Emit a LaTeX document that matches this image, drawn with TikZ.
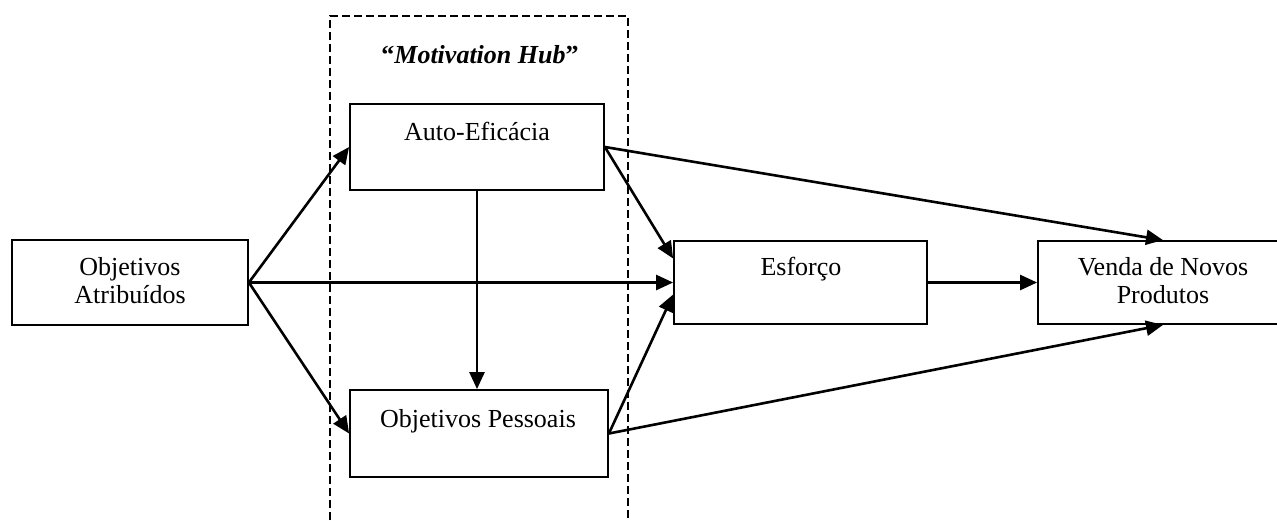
\documentclass[tikz,border=0pt]{standalone}
\usepackage{fontspec}
\setmainfont{Liberation Serif}
\usetikzlibrary{arrows.meta,calc}
\begin{document}
\begin{tikzpicture}[x=1pt,y=-1pt,
  box/.style={draw,line width=1.8pt,rectangle,inner sep=0pt,fill=white},
  txt/.style={font=\fontsize{26}{28}\selectfont,align=center,inner sep=0pt},
  conn/.style={line width=2.6pt,-{Triangle[length=17pt,width=15pt]}},
  hub/.style={line width=1.8pt,dash pattern=on 8pt off 4pt}]
\useasboundingbox (0,0) rectangle (1277,520);
\fill[white] (0,0) rectangle (1277,520);

% dashed frame of the motivation hub, open at the bottom
\coordinate (hbl) at (330,520);
\coordinate (htl) at (330,16);
\coordinate (htr) at (628,16);
\coordinate (hbr) at (628,520);
\draw[hub] (hbl) -- (htl) -- (htr) -- (hbr);
\node[txt,anchor=base] (hubt) at (480,63) {\textbf{“\textit{Motivation Hub}”}};

% boxes
\node[box,minimum width=236pt,minimum height=85pt] (oa) at (130,282.5) {};
\node[box,minimum width=254pt,minimum height=86pt] (ae) at (477,147) {};
\node[box,minimum width=258pt,minimum height=87pt] (op) at (479,433.5) {};
\node[box,minimum width=253pt,minimum height=83pt] (es) at (800.5,282.5) {};
\node[box,minimum width=250pt,minimum height=83pt] (vn) at (1163,282.5) {};

% box texts (base of a two-line text is its last line)
\node[txt,anchor=base] (oat) at (130,303) {Objetivos\\Atribuídos};
\node[txt,anchor=base] (aet) at (477,140) {Auto-Eficácia};
\node[txt,anchor=base] (opt) at (478,427) {Objetivos Pessoais};
\node[txt,anchor=base] (est) at (801,275) {Esforço};
\node[txt,anchor=base] (vnt) at (1163,303) {Venda de Novos\\Produtos};

% connectors
\draw[conn] (oa.east) -- (ae.west);
\draw[conn] (oa.east) -- (op.west);
\draw[conn] (oa.east) -- (es.west);
\draw[conn] (ae.south) -- (ae.south |- op.north);
\draw[conn] (ae.east) -- ($(es.west)+(0,-24)$);
\draw[conn] (op.east) -- ($(es.west)+(0,12)$);
\draw[conn] (ae.east) -- (vn.north);
\draw[conn] (op.east) -- (vn.south);
\draw[conn] (es.east) -- (vn.west);
\end{tikzpicture}
\end{document}
